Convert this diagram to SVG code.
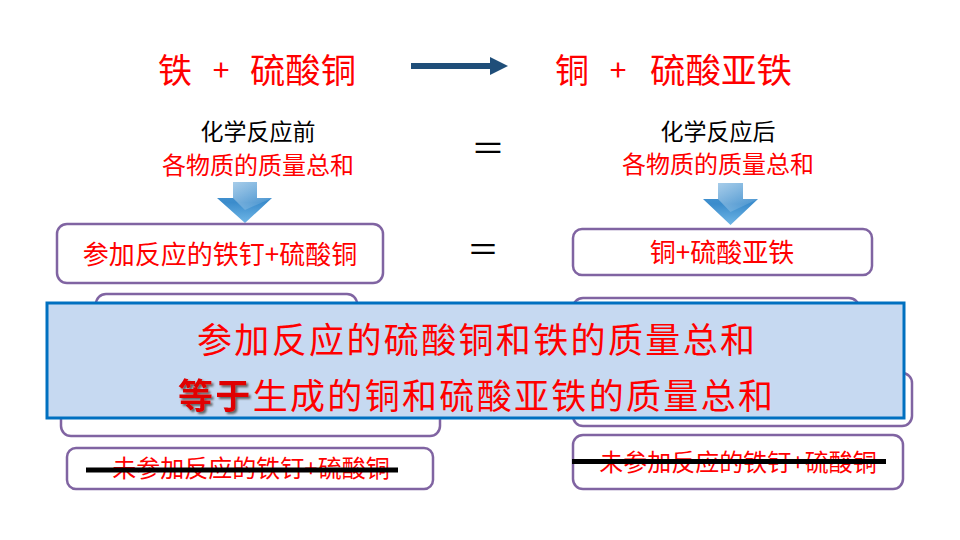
<svg xmlns="http://www.w3.org/2000/svg" width="960" height="540" viewBox="0 0 960 540">
<defs>
<style>
text{font-family:"Noto Sans CJK SC","Noto Sans",sans-serif}
.red{fill:#ff0000}
.blk{fill:#000000}
.box{fill:#ffffff;stroke:#8064a2;stroke-width:2.5}
.strike{stroke:#000000;stroke-width:5}
</style>
<linearGradient id="ag" x1="0" y1="0" x2="0" y2="1">
<stop offset="0" stop-color="#4f9ad4"/>
<stop offset="0.5" stop-color="#3b8ccc"/>
<stop offset="1" stop-color="#6fb6e6"/>
</linearGradient>
<linearGradient id="ah" x1="0" y1="0" x2="1" y2="1">
<stop offset="0" stop-color="#ffffff" stop-opacity="0.5"/>
<stop offset="1" stop-color="#ffffff" stop-opacity="0"/>
</linearGradient>
<filter id="sh" x="-10%" y="-10%" width="130%" height="130%">
<feDropShadow dx="2" dy="2" stdDeviation="1" flood-color="#555555" flood-opacity="0.9"/>
</filter>
</defs>
<rect width="960" height="540" fill="#ffffff"/>

<g id="reactants">
<text x="158" y="83" font-size="34" class="red">铁</text>
<text x="221" y="81" font-size="30" class="red" text-anchor="middle">+</text>
<text x="250" y="83" font-size="34" class="red" textLength="106" lengthAdjust="spacingAndGlyphs">硫酸铜</text>
</g>
<g id="products">
<text x="555" y="83" font-size="34" class="red">铜</text>
<text x="618" y="81" font-size="30" class="red" text-anchor="middle">+</text>
<text x="650" y="83" font-size="34" class="red" textLength="142" lengthAdjust="spacingAndGlyphs">硫酸亚铁</text>
</g>

<g id="connectors">
<path d="M411 66 H491" stroke="#1f4e79" stroke-width="6"/>
<polygon points="490,57 508,66 490,75" fill="#1f4e79"/>
</g>

<g id="before-label">
<text x="258" y="140" font-size="23" class="blk" text-anchor="middle">化学反应前</text>
<text x="258" y="174" font-size="24" class="red" text-anchor="middle">各物质的质量总和</text>
</g>
<g id="eq1"><text x="488" y="161" font-size="34" class="blk" text-anchor="middle">＝</text></g>
<g id="after-label">
<text x="718" y="140" font-size="23" class="blk" text-anchor="middle">化学反应后</text>
<text x="718" y="173" font-size="24" class="red" text-anchor="middle">各物质的质量总和</text>
</g>

<g id="arrow-left">
<polygon points="233,182 257,182 257,198 272,198 245,223 217,198 233,198" fill="url(#ag)"/>
<polygon points="233,182 257,182 257,198 272,198 245,210 233,198" fill="url(#ah)"/>
</g>
<g id="arrow-right">
<polygon points="718,183 743,183 743,199 758,199 730.5,225 703,199 718,199" fill="url(#ag)"/>
<polygon points="718,183 743,183 743,199 758,199 730.5,212 718,199" fill="url(#ah)"/>
</g>

<g id="box-left-1">
<rect x="57" y="224" width="326" height="59" rx="10" class="box"/>
<text x="220" y="264" font-size="26" class="red" text-anchor="middle">参加反应的铁钉+硫酸铜</text>
</g>
<g id="eq2"><text x="483" y="261" font-size="32" class="blk" text-anchor="middle">＝</text></g>
<g id="box-right-1">
<rect x="573" y="229" width="299" height="46" rx="9" class="box"/>
<text x="722" y="262" font-size="26" class="red" text-anchor="middle">铜+硫酸亚铁</text>
</g>

<g id="box-left-2"><rect x="96" y="294" width="261" height="50" rx="10" class="box"/></g>
<g id="box-left-3"><rect x="61" y="380" width="379" height="56" rx="10" class="box"/></g>
<g id="box-right-2"><rect x="573" y="298" width="286" height="50" rx="10" class="box"/></g>
<g id="box-right-3"><rect x="573" y="373" width="339" height="53" rx="10" class="box"/></g>

<g id="box-left-4">
<rect x="67" y="448" width="366" height="41" rx="9" class="box"/>
<text x="251" y="477" font-size="24" class="red" text-anchor="middle">未参加反应的铁钉+硫酸铜</text>
<line x1="86" y1="470" x2="398" y2="470" class="strike"/>
</g>
<g id="box-right-4">
<rect x="573" y="435" width="330" height="54" rx="10" class="box"/>
<text x="738" y="471" font-size="24" class="red" text-anchor="middle">未参加反应的铁钉+硫酸铜</text>
<line x1="572" y1="461.5" x2="886" y2="461.5" class="strike"/>
</g>

<g id="summary">
<rect x="47" y="303" width="857" height="115" fill="#c6d9f1" stroke="#0070c0" stroke-width="3"/>
<text x="197" y="353" font-size="35" class="red" textLength="558" lengthAdjust="spacing">参加反应的硫酸铜和铁的质量总和</text>
<text x="178" y="409" font-size="35" textLength="595" lengthAdjust="spacing"><tspan fill="#e00000" font-weight="bold" filter="url(#sh)">等于</tspan><tspan class="red">生成的铜和硫酸亚铁的质量总和</tspan></text>
</g>
</svg>
